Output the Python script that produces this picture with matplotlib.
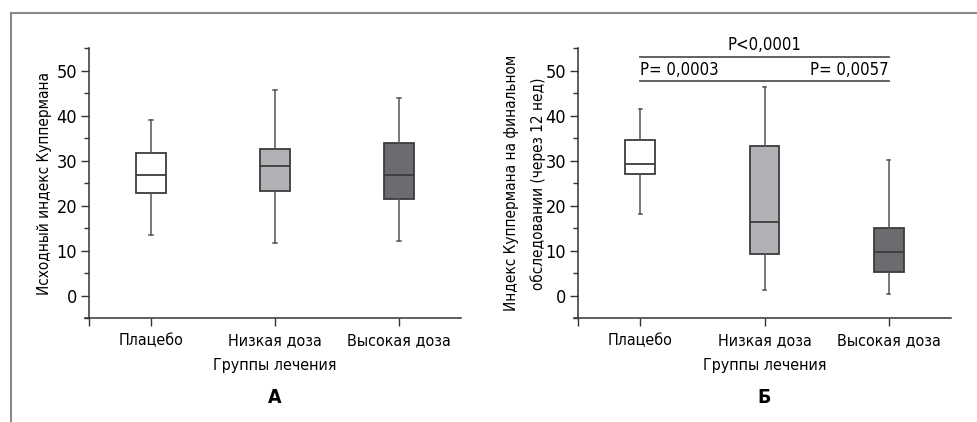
#!/usr/bin/env python3
# coding=utf-8
"""Kupperman index by treatment group: baseline (A) and after 12 weeks (B)."""

import matplotlib

matplotlib.use("Agg")
import matplotlib.pyplot as plt
from matplotlib.lines import Line2D

plt.rcParams["font.family"] = ["DejaVu Sans"]
plt.rcParams["font.stretch"] = "condensed"

groups = ["Плацебо", "Низкая доза", "Высокая доза"]
colors = ["#ffffff", "#b1b2b6", "#6b6c70"]

# whisker low, Q1, median, Q3, whisker high
base_lo = [13.6, 11.7, 12.1]
base_q1 = [22.9, 23.2, 21.6]
base_med = [26.8, 28.9, 26.8]
base_q3 = [31.8, 32.6, 33.9]
base_hi = [39.0, 45.8, 44.0]

final_lo = [18.1, 1.2, 0.4]
final_q1 = [27.1, 9.3, 5.3]
final_med = [29.3, 16.4, 9.7]
final_q3 = [34.6, 33.4, 15.1]
final_hi = [41.6, 46.3, 30.1]

p_all = "P<0,0001"
p_low = "P= 0,0003"
p_high = "P= 0,0057"

EDGE = "#3c3c3c"
WHISK = "#555555"


def make_stats(lo, q1, med, q3, hi):
    return [dict(whislo=a, q1=b, med=c, q3=d, whishi=e, fliers=[])
            for a, b, c, d, e in zip(lo, q1, med, q3, hi)]


def draw_panel(ax, stats, ylabel, letter, labelpad):
    bp = ax.bxp(stats, positions=[1, 2, 3], widths=0.24, patch_artist=True,
                showfliers=False,
                boxprops=dict(edgecolor=EDGE, linewidth=1.3),
                medianprops=dict(color=EDGE, linewidth=1.3),
                whiskerprops=dict(color=WHISK, linewidth=1.1),
                capprops=dict(color=WHISK, linewidth=1.1),
                capwidths=0.025)
    for patch, c in zip(bp["boxes"], colors):
        patch.set_facecolor(c)

    ax.set_xlim(0.5, 3.5)
    ax.set_ylim(-5, 55)
    ax.set_yticks([0, 10, 20, 30, 40, 50])
    ax.set_yticks([-5, 5, 15, 25, 35, 45, 55], minor=True)
    ax.set_xticks([0.5, 1, 2, 3])
    ax.set_xticklabels([""] + groups)
    for s in ("top", "right"):
        ax.spines[s].set_visible(False)
    for s in ("left", "bottom"):
        ax.spines[s].set_color("#333333")
        ax.spines[s].set_linewidth(1.1)
    ax.spines["bottom"].set_bounds(0.468, 3.5)
    ax.tick_params(axis="both", which="major", direction="out", length=5.5,
                   width=1.0, color="#333333", labelsize=13, pad=3)
    ax.tick_params(axis="y", which="minor", direction="out", length=3.5,
                   width=1.0, color="#333333")
    ax.tick_params(axis="x", which="major", pad=5, labelsize=11.5)
    ax.set_xlabel("Группы лечения", fontsize=11.5, labelpad=7)
    ax.set_ylabel(ylabel, fontsize=11, labelpad=labelpad, linespacing=1.9)
    ax.text(2, -22.6, letter, ha="center", va="center", fontsize=14,
            fontweight="bold", transform=ax.transData, clip_on=False)


def main():
    fig = plt.figure(figsize=(9.77, 4.22), dpi=100)
    ax_a = fig.add_axes([0.0911, 0.2457, 0.3808, 0.6398])
    ax_b = fig.add_axes([0.5916, 0.2457, 0.3818, 0.6398])

    draw_panel(ax_a, make_stats(base_lo, base_q1, base_med, base_q3, base_hi),
               "Исходный индекс Куппермана", "А", 3)
    draw_panel(ax_b, make_stats(final_lo, final_q1, final_med, final_q3, final_hi),
               "Индекс Куппермана на финальном\nобследовании (через 12 нед)", "Б", 0)

    # significance brackets
    for y in (53.1, 47.7):
        ax_b.plot([1, 3], [y, y], color="#555555", lw=1.3, clip_on=False)
    ax_b.text(2, 53.7, p_all, ha="center", va="bottom", fontsize=12, clip_on=False)
    ax_b.text(1, 48.2, p_low, ha="left", va="bottom", fontsize=12)
    ax_b.text(3, 48.2, p_high, ha="right", va="bottom", fontsize=12)

    # outer frame: top and left edges
    fig.add_artist(Line2D([11 / 977, 1], [1 - 13 / 422, 1 - 13 / 422],
                          transform=fig.transFigure, color="#8a8a8a", lw=1.5))
    fig.add_artist(Line2D([11 / 977, 11 / 977], [0, 1 - 13 / 422],
                          transform=fig.transFigure, color="#8a8a8a", lw=1.5))

    fig.savefig("out.png", dpi=100)


if __name__ == "__main__":
    main()
